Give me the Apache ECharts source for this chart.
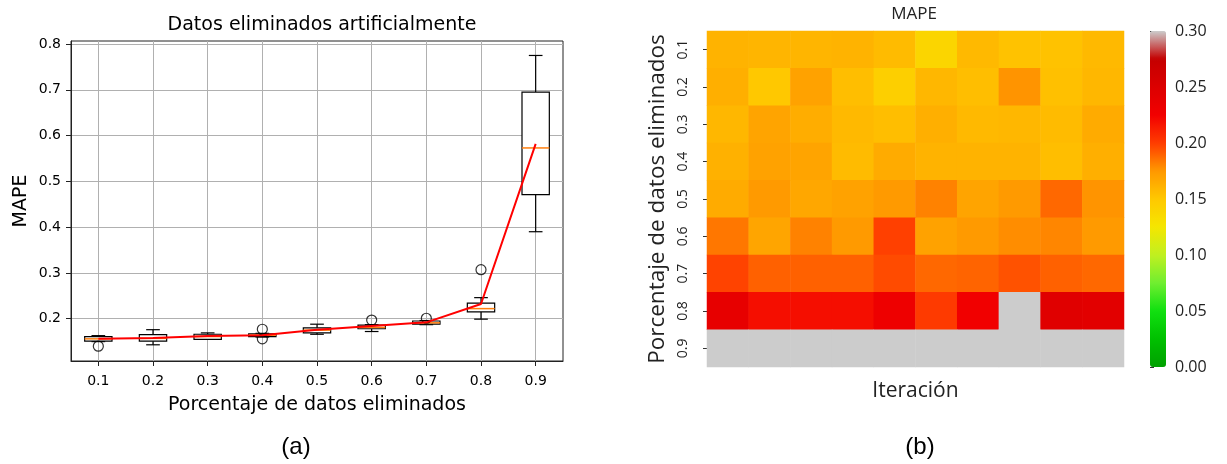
<!DOCTYPE html>
<html><head><meta charset="utf-8">
<script src="https://cdn.jsdelivr.net/npm/echarts@6/dist/echarts.min.js"></script>
<style>html,body{margin:0;padding:0;background:#fff}#c{width:1227px;height:464px}</style>
</head><body><div id="c"></div>
<script>
// ---------- (a) boxplot data ----------
const categories = ['0.1','0.2','0.3','0.4','0.5','0.6','0.7','0.8','0.9'];
const boxMin    = [0.150, 0.143, 0.155, 0.160, 0.166, 0.172, 0.187, 0.199, 0.390];
const boxQ1     = [0.151, 0.151, 0.155, 0.161, 0.169, 0.178, 0.188, 0.215, 0.471];
const boxMedian = [0.156, 0.157, 0.161, 0.164, 0.175, 0.181, 0.191, 0.222, 0.573];
const boxQ3     = [0.161, 0.165, 0.166, 0.167, 0.180, 0.186, 0.195, 0.234, 0.695];
const boxMax    = [0.163, 0.176, 0.169, 0.168, 0.188, 0.187, 0.196, 0.246, 0.775];
const outlierCat   = [0, 3, 3, 5, 6, 7];
const outlierValue = [0.140, 0.177, 0.156, 0.197, 0.201, 0.307];
const meanValues = [0.156, 0.158, 0.162, 0.164, 0.176, 0.184, 0.192, 0.232, 0.582];
const yTickValues = [0.2, 0.3, 0.4, 0.5, 0.6, 0.7, 0.8];

// ---------- (b) heatmap data ----------
const iterations = ['1','2','3','4','5','6','7','8','9','10'];
const heatRows = ['0.1','0.2','0.3','0.4','0.5','0.6','0.7','0.8','0.9'];
const mape_01 = [0.161,0.160,0.160,0.161,0.157,0.139,0.158,0.153,0.153,0.158];
const mape_02 = [0.163,0.150,0.170,0.155,0.144,0.159,0.155,0.176,0.154,0.159];
const mape_03 = [0.159,0.169,0.164,0.158,0.155,0.163,0.158,0.159,0.157,0.165];
const mape_04 = [0.162,0.170,0.169,0.157,0.165,0.161,0.161,0.161,0.155,0.163];
const mape_05 = [0.165,0.174,0.167,0.170,0.174,0.181,0.169,0.174,0.188,0.176];
const mape_06 = [0.184,0.168,0.181,0.174,0.199,0.170,0.174,0.178,0.180,0.174];
const mape_07 = [0.198,0.190,0.190,0.190,0.196,0.188,0.189,0.194,0.190,0.188];
const mape_08 = [0.238,0.219,0.219,0.219,0.230,0.201,0.226,0.307,0.246,0.243];
const mape_09 = [0.470,0.390,0.580,0.700,0.775,0.560,0.690,0.470,0.620,0.570];

const heatMatrix = [mape_01,mape_02,mape_03,mape_04,mape_05,mape_06,mape_07,mape_08,mape_09];
const heatData = [];
heatMatrix.forEach((row, r) => row.forEach((v, c) => heatData.push([c, r, v])));
const boxData = categories.map((c, i) => [i, boxMin[i], boxQ1[i], boxMedian[i], boxQ3[i], boxMax[i]]);
const outlierData = outlierCat.map((c, i) => [c, outlierValue[i]]);

const MPL = 'DejaVu Sans';
const SNS = 'Open Sans';

const chart = echarts.init(document.getElementById('c'), null, {renderer: 'canvas'});
chart.setOption({
  animation: false,
  backgroundColor: '#fff',
  title: [
    {text: 'Datos eliminados artificialmente', left: 317, top: 11, textAlign: 'center',
     textStyle: {fontFamily: MPL, fontSize: 19, fontWeight: 'normal', color: '#000'}},
    {text: 'MAPE', left: 909, top: 1, textAlign: 'center',
     textStyle: {fontFamily: SNS, fontSize: 17, fontWeight: 'normal', color: '#222'}}
  ],
  grid: [
    {left: 71, top: 41, width: 492, height: 320, show: true, borderColor: '#222', borderWidth: 1, backgroundColor: 'transparent'},
    {left: 707, top: 31, width: 417, height: 336},
    {left: 1150, top: 31, width: 16, height: 336, show: false}
  ],
  xAxis: [
    {type: 'category', gridIndex: 0, data: categories, boundaryGap: true,
     axisLine: {show: true, lineStyle: {color: '#222'}},
     axisTick: {show: true, alignWithLabel: true, length: 5, lineStyle: {color: '#222'}},
     axisLabel: {fontFamily: MPL, fontSize: 14, color: '#000', margin: 13},
     splitLine: {show: true, alignWithLabel: true, lineStyle: {color: '#b0b0b0', width: 1}},
     name: 'Porcentaje de datos eliminados', nameLocation: 'middle', nameGap: 35,
     nameTextStyle: {fontFamily: MPL, fontSize: 19, color: '#000'}},
    {type: 'category', gridIndex: 1, data: iterations,
     axisLine: {show: false}, axisTick: {show: false}, axisLabel: {show: false},
     name: 'Iteración', nameLocation: 'middle', nameGap: 14,
     nameTextStyle: {fontFamily: SNS, fontSize: 21, color: '#222'}},
    {type: 'value', gridIndex: 2, show: false, min: 0, max: 1}
  ],
  yAxis: [
    {type: 'value', gridIndex: 0, min: 0.1076, max: 0.8066, splitNumber: 7,
     axisLine: {show: true, lineStyle: {color: '#222'}},
     axisTick: {show: true, length: 5, lineStyle: {color: '#222'}, customValues: yTickValues},
     axisLabel: {fontFamily: MPL, fontSize: 14, color: '#000', margin: 10,
                 customValues: yTickValues, formatter: v => v.toFixed(1)},
     splitLine: {show: true, lineStyle: {color: '#b0b0b0', width: 1}},
     name: 'MAPE', nameLocation: 'middle', nameGap: 40,
     nameTextStyle: {fontFamily: MPL, fontSize: 19, color: '#000'}},
    {type: 'category', gridIndex: 1, data: heatRows, inverse: true,
     axisLine: {show: false},
     axisTick: {show: true, alignWithLabel: true, length: 4, lineStyle: {color: '#333'}},
     axisLabel: {fontFamily: SNS, fontSize: 14, color: '#222', rotate: 90, margin: 17},
     name: 'Porcentaje de datos eliminados', nameLocation: 'middle', nameGap: 38,
     nameTextStyle: {fontFamily: SNS, fontSize: 22.5, color: '#222'}},
    {type: 'value', gridIndex: 2, position: 'right', min: 0, max: 0.3, interval: 0.05,
     axisLine: {show: false},
     axisTick: {show: true, length: 4, lineStyle: {color: '#333'}},
     axisLabel: {fontFamily: SNS, fontSize: 16, color: '#222', margin: 9, formatter: v => v.toFixed(2)},
     splitLine: {show: false}}
  ],
  visualMap: {
    type: 'continuous', seriesIndex: 3, min: 0, max: 0.3,
    left: 1150, top: 31, itemWidth: 16, itemHeight: 336, padding: 0,
    calculable: false, text: [], hoverLink: false,
    inRange: {color: ['#00a000','#00c000','#10e010','#70ee30','#c0f020','#f5e600','#ffc800','#ff9800','#ff3c00','#f20000','#dc0000','#c40000','#cccccc']},
    outOfRange: {color: ['#cccccc']}
  },
  graphic: [
    {type: 'text', x: 296, y: 447, style: {text: '(a)', fontFamily: 'Liberation Sans', fontSize: 24, fill: '#000', align: 'center', verticalAlign: 'middle'}},
    {type: 'text', x: 920, y: 447, style: {text: '(b)', fontFamily: 'Liberation Sans', fontSize: 24, fill: '#000', align: 'center', verticalAlign: 'middle'}}
  ],
  series: [
    {type: 'custom', xAxisIndex: 0, yAxisIndex: 0, data: boxData, z: 3,
     encode: {x: 0, y: [1, 2, 3, 4, 5]},
     renderItem: function (params, api) {
       const i = api.value(0);
       const pMin = api.coord([i, api.value(1)]);
       const pQ1 = api.coord([i, api.value(2)]);
       const pMed = api.coord([i, api.value(3)]);
       const pQ3 = api.coord([i, api.value(4)]);
       const pMax = api.coord([i, api.value(5)]);
       const band = api.size([1, 0])[0];
       const bw = band * 0.5, cw = bw * 0.5, cx = pMed[0];
       const st = {stroke: '#000', lineWidth: 1.2, fill: null};
       return {type: 'group', children: [
         {type: 'line', shape: {x1: cx, y1: pQ1[1], x2: cx, y2: pMin[1]}, style: st},
         {type: 'line', shape: {x1: cx, y1: pQ3[1], x2: cx, y2: pMax[1]}, style: st},
         {type: 'line', shape: {x1: cx - cw / 2, y1: pMin[1], x2: cx + cw / 2, y2: pMin[1]}, style: st},
         {type: 'line', shape: {x1: cx - cw / 2, y1: pMax[1], x2: cx + cw / 2, y2: pMax[1]}, style: st},
         {type: 'rect', shape: {x: cx - bw / 2, y: pQ3[1], width: bw, height: pQ1[1] - pQ3[1]}, style: {stroke: '#000', lineWidth: 1.2, fill: '#fff'}},
         {type: 'line', shape: {x1: cx - bw / 2, y1: pMed[1], x2: cx + bw / 2, y2: pMed[1]}, style: {stroke: '#ff7f0e', lineWidth: 1.5}}
       ]};
     }},
    {type: 'scatter', xAxisIndex: 0, yAxisIndex: 0, data: outlierData, symbol: 'circle', symbolSize: 10, z: 4,
     itemStyle: {color: 'rgba(0,0,0,0)', borderColor: '#000', borderWidth: 1.2}},
    {type: 'line', xAxisIndex: 0, yAxisIndex: 0, data: meanValues, symbol: 'none', z: 5,
     lineStyle: {color: '#ff0000', width: 2}},
    {type: 'heatmap', xAxisIndex: 1, yAxisIndex: 1, data: heatData, itemStyle: {borderWidth: 0}}
  ]
});
</script></body></html>
